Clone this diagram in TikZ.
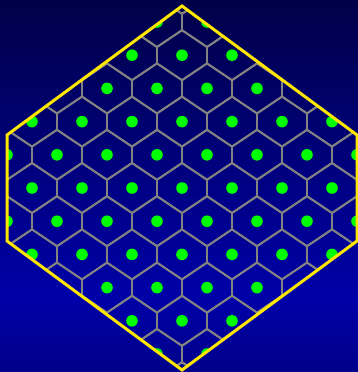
\documentclass[tikz,border=0pt]{standalone}
\usetikzlibrary{calc}
\definecolor{rimyellow}{RGB}{255,230,0}
\definecolor{cellgray}{RGB}{130,130,130}
\definecolor{sitegreen}{RGB}{0,255,0}
\definecolor{bgtop}{RGB}{0,0,72}
\definecolor{bgmid}{RGB}{0,0,168}
\definecolor{bgbot}{RGB}{0,0,138}
\pgfdeclareverticalshading{bgfade}{100bp}{color(0bp)=(bgbot); color(25bp)=(bgbot); color(35bp)=(bgmid); color(75bp)=(bgtop); color(100bp)=(bgtop)}
\tikzset{
  cell/.style={draw=cellgray, line width=1.9pt, line join=round},
  site/.style={fill=sitegreen},
  rim/.style={draw=rimyellow, line width=3pt, line join=miter},
}

\begin{document}
\begin{tikzpicture}[x=1pt, y=-1pt]

% background
\shade[shading=bgfade] (0,0) rectangle (358,372);
\useasboundingbox (0,0) rectangle (358,372);

% cells and sites, cut to the big hexagon
\begin{scope}
\clip (182,6) -- (357,135) -- (357,241) -- (182,370) -- (7,241) -- (7,135) -- cycle;
\foreach \r in {-6,...,6}{
  \foreach \c in {-5,...,4}{
    \pgfmathsetmacro\cx{182+50*\c+25*mod(abs(\r),2)}
    \pgfmathsetmacro\cy{188+33.2*\r}
    \draw[cell, shift={(\cx,\cy)}] (0,-25) -- (25,-8.2) -- (25,8.2) -- (0,25) -- (-25,8.2) -- (-25,-8.2) -- cycle;
    \fill[site] (\cx,\cy) circle (5.8);
  }
}
\end{scope}

% outline
\draw[rim] (182,6) -- (357,135) -- (357,241) -- (182,370) -- (7,241) -- (7,135) -- cycle;

\end{tikzpicture}
\end{document}
